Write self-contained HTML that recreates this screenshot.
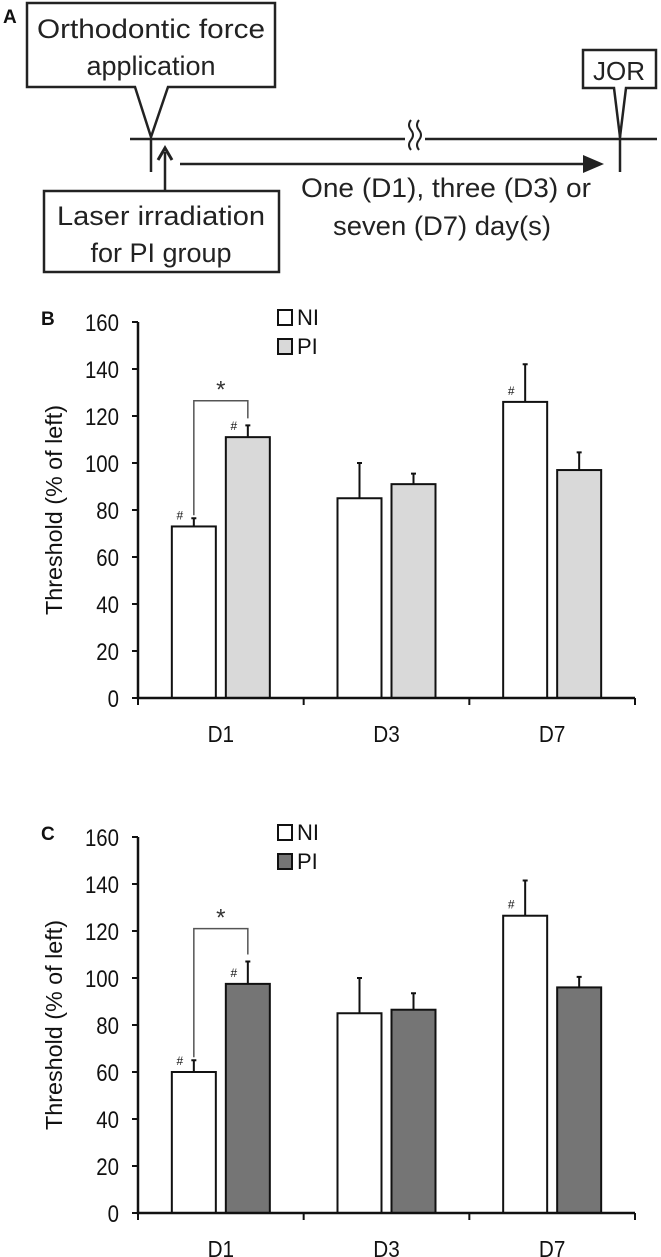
<!DOCTYPE html>
<html><head><meta charset="utf-8"><style>
html,body{margin:0;padding:0;background:#fff;}
svg{display:block;font-family:"Liberation Sans",sans-serif;}
</style></head><body>
<svg id="fig" width="661" height="1257" viewBox="0 0 661 1257" xmlns="http://www.w3.org/2000/svg">
<g stroke="#222" stroke-width="2.5" fill="none">
  <text x="3" y="23" font-size="19" font-weight="bold" fill="#111" stroke="none">A</text>
  <path d="M27,3 H275 V87 H168 L151,137 L135,87 H27 Z" fill="#fff"/>
  <text x="151" y="38" font-size="27" text-anchor="middle" fill="#222" stroke="none" textLength="228" lengthAdjust="spacingAndGlyphs">Orthodontic force</text>
  <text x="151" y="75" font-size="27" text-anchor="middle" fill="#222" stroke="none">application</text>
  <line x1="130" y1="139" x2="657" y2="139"/>
  <rect x="405" y="125" width="20" height="30" fill="#fff" stroke="none"/>
  <path d="M411,120 q-4,5 0,10 q4,5 0,10 q-4,5 0,10 M419,120 q-4,5 0,10 q4,5 0,10 q-4,5 0,10" stroke-width="2"/>
  <line x1="151" y1="139" x2="151" y2="172"/>
  <line x1="620" y1="120" x2="620" y2="172"/>
  <line x1="165" y1="190" x2="165" y2="152"/>
  <path d="M158,160 L165,148 L172,160" stroke-width="3"/>
  <line x1="180" y1="164" x2="590" y2="164"/>
  <path d="M583,155 L604,164 L583,173 Z" fill="#222" stroke="none"/>
  <rect x="44" y="191" width="235" height="81" fill="#fff"/>
  <text x="161" y="225" font-size="27" text-anchor="middle" fill="#222" stroke="none" textLength="208" lengthAdjust="spacingAndGlyphs">Laser irradiation</text>
  <text x="161" y="262" font-size="27" text-anchor="middle" fill="#222" stroke="none">for PI group</text>
  <text x="446" y="197" font-size="27" text-anchor="middle" fill="#222" stroke="none" textLength="290" lengthAdjust="spacingAndGlyphs">One (D1), three (D3) or</text>
  <text x="442" y="235" font-size="27" text-anchor="middle" fill="#222" stroke="none" textLength="218" lengthAdjust="spacingAndGlyphs">seven (D7) day(s)</text>
  <path d="M583,50 H656 V88 H626 L620,137 L614,88 H583 Z" fill="#fff"/>
  <text x="619" y="80" font-size="26" text-anchor="middle" fill="#222" stroke="none">JOR</text>
</g>
<g id="chartB"></g>
<g id="chartC"></g>
</svg>
<script>
const categories = ["D1", "D3", "D7"];
const yTicks = [0, 20, 40, 60, 80, 100, 120, 140, 160];
const bNI = [73, 85, 126];
const bNIErr = [76.5, 100, 142];
const bPI = [111, 91, 97];
const bPIErr = [116, 95.5, 104.5];
const cNI = [60, 85, 126.5];
const cNIErr = [65, 100, 141.5];
const cPI = [97.5, 86.5, 96];
const cPIErr = [107, 93.5, 100.5];
const bHash = [[true, true], [false, false], [true, false]];
const cHash = [[true, true], [false, false], [true, false]];
const bSig = {cat: 0, top: 126.5};
const cSig = {cat: 0, top: 121};

const NS = "http://www.w3.org/2000/svg";
function mk(parent, tag, attrs, text) {
  const e = document.createElementNS(NS, tag);
  for (const k in attrs) e.setAttribute(k, attrs[k]);
  if (text !== undefined) e.textContent = text;
  parent.appendChild(e);
  return e;
}
function drawChart(gid, y0px, label, ni, niErr, pi, piErr, piColor, hash, sig) {
  const g = document.getElementById(gid);
  const x0 = 138, x1 = 635, pxPer = 47 / 20;
  const catW = (x1 - x0) / categories.length;
  const y = v => y0px - v * pxPer;
  const xc = i => x0 + catW * (i + 0.5);
  const bw = 44, gap = 10;
  let t = mk(g, "text", {x: 41, y: y(160) + 3, "font-size": 19, "font-weight": "bold", fill: "#111"}, label);
  
  
  yTicks.forEach(v => {
    const l = mk(g, "line", {x1: x0 - 6, x2: x0, y1: y(v), y2: y(v), stroke: "#111", "stroke-width": 2});
    
    
    const tx = mk(g, "text", {x: 0, y: 0, "font-size": 24, "text-anchor": "end", fill: "#111", transform: `translate(119,${y(v) + 9}) scale(0.85,1)`}, String(v));
    
    
  });
  const ytl = mk(g, "text", {x: 0, y: 0, "font-size": 23, "text-anchor": "middle", fill: "#111", transform: `translate(62,${y(80)}) rotate(-90)`, textLength: 210, lengthAdjust: "spacingAndGlyphs"}, "Threshold  (% of left)");
  
  
  categories.forEach((c, i) => {
    const xn = xc(i) - gap / 2 - bw, xp = xc(i) + gap / 2;
    const r1 = mk(g, "rect", {x: xn, y: y(ni[i]), width: bw, height: ni[i] * pxPer, fill: "#fff", stroke: "#111", "stroke-width": 2});
    
    
    const r2 = mk(g, "rect", {x: xp, y: y(pi[i]), width: bw, height: pi[i] * pxPer, fill: piColor, stroke: "#111", "stroke-width": 2});
    
    
    [[xn + bw / 2, ni[i], niErr[i], hash[i][0]], [xp + bw / 2, pi[i], piErr[i], hash[i][1]]].forEach(([cx, v, e, h]) => {
      const eb = mk(g, "path", {d: `M${cx},${y(v)} V${y(e)} M${cx - 2.5},${y(e)} H${cx + 2.5}`, stroke: "#111", "stroke-width": 2, fill: "none"});
      
      
      if (h) {
        const ht = mk(g, "text", {x: cx - 14, y: y(v) - 7, "font-size": 12, "text-anchor": "middle", fill: "#111"}, "#");
        
        
      }
    });
    const ct = mk(g, "text", {x: 0, y: 0, "font-size": 23, "text-anchor": "middle", fill: "#111", transform: `translate(${xc(i)},${y0px + 44}) scale(0.9,1)`}, c);
    
    
  });
  for (let i = 0; i <= categories.length; i++) {
    const tk = mk(g, "line", {x1: x0 + catW * i, x2: x0 + catW * i, y1: y0px, y2: y0px + 7, stroke: "#111", "stroke-width": 2});
    
    
  }
  const ax = mk(g, "path", {d: `M${x0},${y(160)} V${y0px} H${x1}`, stroke: "#111", "stroke-width": 2.5, fill: "none"});
  
  
  const i = sig.cat;
  const lx = xc(i) - gap / 2 - bw / 2, rx = xc(i) + gap / 2 + bw / 2;
  const br = mk(g, "path", {d: `M${lx},${y(niErr[i]) - 3} V${y(sig.top)} H${rx} V${y(piErr[i]) - 7}`, stroke: "#555", "stroke-width": 1.5, fill: "none"});
  
  
  const st = mk(g, "text", {x: (lx + rx) / 2, y: y(sig.top) - 3, "font-size": 24, "text-anchor": "middle", fill: "#333"}, "*");
  
  
  const lgY = y(160) - 12;
  const s1 = mk(g, "rect", {x: 278, y: lgY, width: 14, height: 15, fill: "#fff", stroke: "#111", "stroke-width": 2});
  
  
  const l1 = mk(g, "text", {x: 297, y: lgY + 15, "font-size": 22, fill: "#111"}, "NI");
  
  
  const s2 = mk(g, "rect", {x: 278, y: lgY + 29, width: 14, height: 15, fill: piColor, stroke: "#111", "stroke-width": 2});
  
  
  const l2 = mk(g, "text", {x: 297, y: lgY + 44, "font-size": 22, fill: "#111"}, "PI");
  
  
}
drawChart("chartB", 698, "B", bNI, bNIErr, bPI, bPIErr, "#d9d9d9", bHash, bSig);
drawChart("chartC", 1213, "C", cNI, cNIErr, cPI, cPIErr, "#757575", cHash, cSig);
</script>
</body></html>
